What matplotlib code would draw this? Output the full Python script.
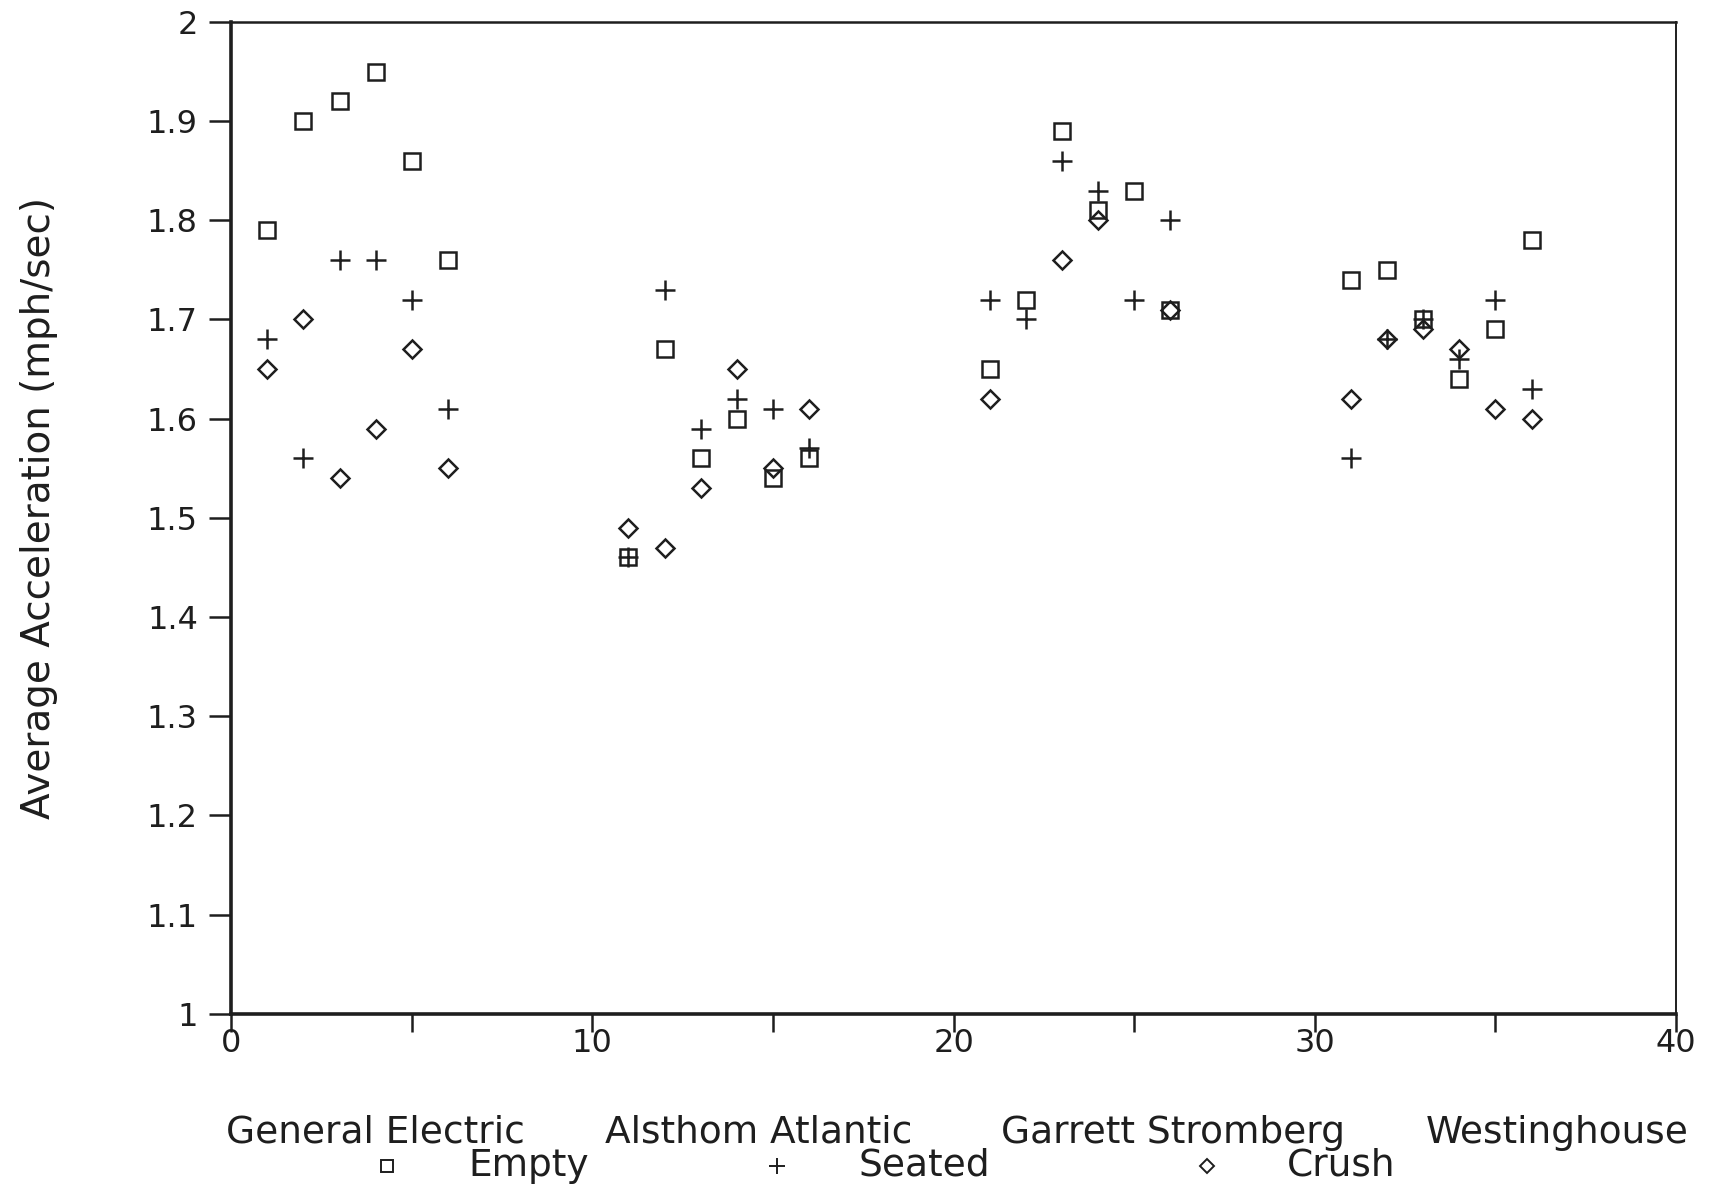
import numpy as np
import matplotlib
matplotlib.use("Agg")
import matplotlib.pyplot as plt
from matplotlib.lines import Line2D
from matplotlib.ticker import MultipleLocator, FuncFormatter

# Test runs 1-6, 11-16, 21-26, 31-36 (one block of six per manufacturer)
runs = [1, 2, 3, 4, 5, 6,
        11, 12, 13, 14, 15, 16,
        21, 22, 23, 24, 25, 26,
        31, 32, 33, 34, 35, 36]

empty = [1.79, 1.90, 1.92, 1.95, 1.86, 1.76,
         1.46, 1.67, 1.56, 1.60, 1.54, 1.56,
         1.65, 1.72, 1.89, 1.81, 1.83, 1.71,
         1.74, 1.75, 1.70, 1.64, 1.69, 1.78]

seated = [1.68, 1.56, 1.76, 1.76, 1.72, 1.61,
          1.46, 1.73, 1.59, 1.62, 1.61, 1.57,
          1.72, 1.70, 1.86, 1.83, 1.72, 1.80,
          1.56, 1.68, 1.70, 1.66, 1.72, 1.63]

# no crush point drawn for runs 22 and 25
crush = [1.65, 1.70, 1.54, 1.59, 1.67, 1.55,
         1.49, 1.47, 1.53, 1.65, 1.55, 1.61,
         1.62, np.nan, 1.76, 1.80, np.nan, 1.71,
         1.62, 1.68, 1.69, 1.67, 1.61, 1.60]

manufacturers = ["General Electric", "Alsthom Atlantic",
                 "Garrett Stromberg", "Westinghouse"]
legend_labels = ["Empty", "Seated", "Crush"]

INK = "#1e1e1e"
FS = 23      # tick labels
FS_TXT = 27  # names, key and axis title


def main():
    fig = plt.figure(figsize=(17.25, 11.87), dpi=100)
    ax = fig.add_axes([0.134, 0.146, 0.8376, 0.8355])

    # three load conditions, open markers like the plotter output
    styles = [
        dict(marker="s", markersize=12, mfc="none", mec=INK, mew=1.8),
        dict(marker="+", markersize=15, mec=INK, mew=1.8),
        dict(marker="D", markersize=9.5, mfc="none", mec=INK, mew=1.8),
    ]
    for vals, st in zip([empty, seated, crush], styles):
        ax.plot(runs, vals, linestyle="none", **st)

    ax.set_xlim(0, 40)
    ax.set_ylim(1, 2)
    ax.xaxis.set_major_locator(MultipleLocator(5))
    ax.xaxis.set_major_formatter(
        FuncFormatter(lambda v, p: f"{v:.0f}" if v % 10 == 0 else ""))
    ax.yaxis.set_major_locator(MultipleLocator(0.1))
    ax.yaxis.set_major_formatter(
        FuncFormatter(lambda v, p: f"{v:.1f}".rstrip("0").rstrip(".")
                      if abs(v - round(v)) > 1e-6 else f"{v:.0f}"))

    ax.tick_params(direction="out", length=16, width=1.8, colors=INK,
                   labelsize=FS, pad=8)
    ax.tick_params(axis="x", length=13, pad=-3)
    ax.spines["left"].set_linewidth(2.6)
    ax.spines["bottom"].set_linewidth(2.6)
    ax.spines["top"].set_linewidth(1.8)
    ax.spines["right"].set_linewidth(1.4)
    for sp in ax.spines.values():
        sp.set_color(INK)

    ax.set_ylabel("Average Acceleration (mph/sec)", fontsize=FS_TXT + 1,
                  color=INK)
    ax.yaxis.set_label_coords(-0.12, 0.51)

    # manufacturer names under the run numbers
    name_x = [0.2174, 0.44, 0.68, 0.9026]
    for name, xf in zip(manufacturers, name_x):
        fig.text(xf, 0.0455, name, fontsize=FS_TXT, color=INK,
                 ha="center", va="center")

    # marker key on the last line
    key_marker_x = [0.2243, 0.4504, 0.6997]
    key_text_x = [0.2713, 0.4974, 0.7461]
    for st, mx, tx, lab in zip(styles, key_marker_x, key_text_x, legend_labels):
        small = dict(st)
        small["markersize"] = st["markersize"] * 0.75
        small["mew"] = 1.4
        fig.add_artist(Line2D([mx], [0.0177], transform=fig.transFigure,
                              linestyle="none", **small))
        fig.text(tx, 0.0177, lab, fontsize=FS_TXT, color=INK,
                 ha="left", va="center")

    plt.savefig("out.png", dpi=100)


if __name__ == "__main__":
    main()
